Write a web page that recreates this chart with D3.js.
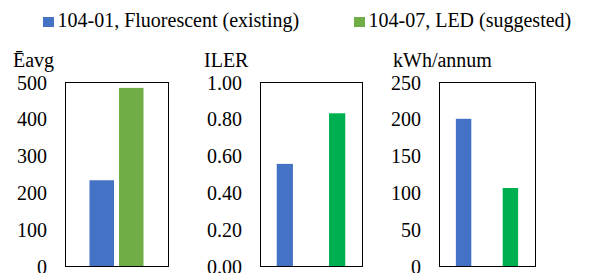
<!DOCTYPE html>
<html>
<head>
<meta charset="utf-8">
<script src="https://cdn.jsdelivr.net/npm/d3@7"></script>
<style>
  body { margin: 0; background: #fff; }
</style>
</head>
<body>
<div id="chart"></div>
<script>
// series names (legend)
const seriesNames = ["104-01, Fluorescent (existing)", "104-07, LED (suggested)"];

// values per panel, [existing, suggested]
const eavgValues = [233, 484];
const ilerValues = [0.555, 0.83];
const kwhValues = [200, 106];

// axis ticks
const eavgTicks = [0, 100, 200, 300, 400, 500];
const ilerTicks = [0, 0.2, 0.4, 0.6, 0.8, 1.0];
const kwhTicks = [0, 50, 100, 150, 200, 250];

const W = 595, H = 273,
  plotTop = 82,
  plotBottom = 266,
  serif = "'Liberation Serif', 'Times New Roman', Times, serif",
  blue = "#4472C4"

const panels = [
  { title: "Ēavg", titleX: 13, values: eavgValues, ticks: eavgTicks, fmt: d3.format("d"),
    x0: 65, x1: 168, padIn: 0.17, padOut: 0.83, colors: [blue, "#70AD47"] },
  { title: "ILER", titleX: 204, values: ilerValues, ticks: ilerTicks, fmt: d3.format(".2f"),
    x0: 260, x1: 362, padIn: 0.69, padOut: 0.32, colors: [blue, "#00B050"] },
  { title: "kWh/annum", titleX: 393, values: kwhValues, ticks: kwhTicks, fmt: d3.format("d"),
    x0: 439, x1: 535, padIn: 0.67, padOut: 0.36, colors: [blue, "#00B050"] }
];

const svg = d3.select("#chart")
  .append("svg")
  .attr("width", W)
  .attr("height", H);

panels.forEach(p => {
  const y = d3.scaleLinear()
    .domain([p.ticks[0], p.ticks[p.ticks.length - 1]])
    .range([plotBottom, plotTop]);
  const x = d3.scaleBand()
    .domain(seriesNames)
    .range([p.x0, p.x1])
    .paddingInner(p.padIn)
    .paddingOuter(p.padOut);

  const g = svg.append("g");

  // frame
  g.append("rect")
    .attr("x", p.x0 + 0.5)
    .attr("y", plotTop + 0.5)
    .attr("width", p.x1 - p.x0)
    .attr("height", plotBottom - plotTop)
    .attr("fill", "none")
    .attr("stroke", "#000")
    .attr("stroke-width", 1);

  g.selectAll(".bar")
    .data(p.values)
    .enter()
    .append("rect")
    .attr("class", "bar")
    .attr("x", (d, i) => x(seriesNames[i]))
    .attr("y", d => y(d))
    .attr("width", x.bandwidth())
    .attr("height", d => plotBottom - y(d))
    .attr("fill", (d, i) => p.colors[i]);

  const axis = g.append("g")
    .attr("transform", "translate(" + (p.x0 - 18) + ",0)")
    .call(d3.axisLeft(y).tickValues(p.ticks).tickFormat(p.fmt).tickSize(0).tickPadding(0));
  axis.select(".domain").remove();
  axis.attr("font-family", null).attr("font-size", null);
  axis.selectAll("text")
    .style("font-family", serif)
    .style("font-size", "20px")
    .attr("fill", "#000")
    .attr("dy", "0.35em");

  g.append("text")
    .attr("x", p.titleX)
    .attr("y", 67)
    .style("font-family", serif)
    .style("font-size", "20px")
    .text(p.title);
});

// legend
const legendX = [43, 354];
const legend = svg.selectAll(".legend")
  .data(seriesNames)
  .enter()
  .append("g")
  .attr("class", "legend")
  .attr("transform", (d, i) => "translate(" + legendX[i] + ",0)");
legend.append("rect")
  .attr("x", 0)
  .attr("y", 17)
  .attr("width", 11)
  .attr("height", 10)
  .attr("fill", (d, i) => i === 0 ? blue : "#70AD47");
legend.append("text")
  .attr("x", 14.5)
  .attr("y", 27)
  .style("font-family", serif)
  .style("font-size", "20px")
  .text(d => d);
</script>
</body>
</html>
